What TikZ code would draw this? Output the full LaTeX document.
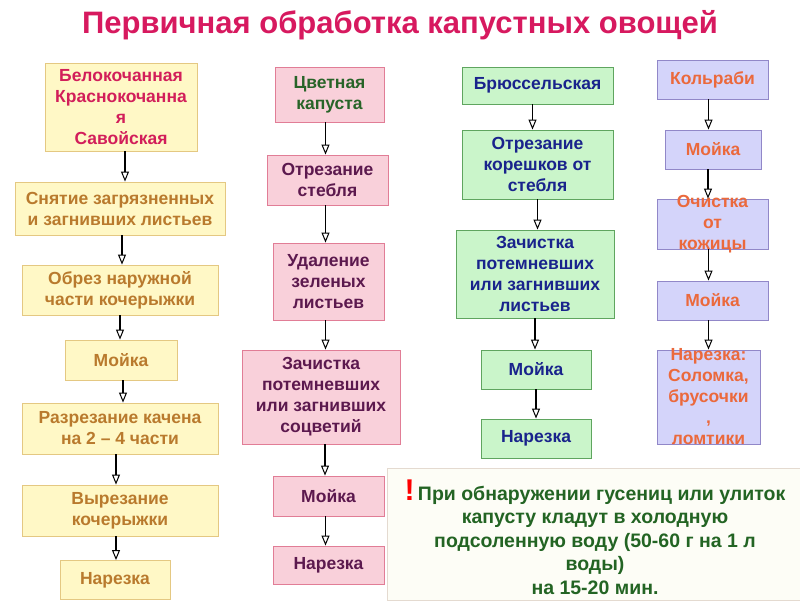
\documentclass[tikz,border=0pt]{standalone}
\usepackage{fontspec}
\setmainfont{Liberation Sans}
\usetikzlibrary{arrows.meta}
\definecolor{titlec}{RGB}{215,25,95}
\definecolor{yelf}{RGB}{255,248,198}
\definecolor{yeld}{RGB}{228,200,130}
\definecolor{yelt}{RGB}{185,122,45}
\definecolor{magt}{RGB}{210,30,90}
\definecolor{pinkf}{RGB}{249,208,218}
\definecolor{pinkd}{RGB}{225,125,150}
\definecolor{pinkt}{RGB}{92,25,78}
\definecolor{greent}{RGB}{40,100,40}
\definecolor{grnf}{RGB}{202,245,202}
\definecolor{grnd}{RGB}{95,165,95}
\definecolor{bluet}{RGB}{25,35,140}
\definecolor{lavf}{RGB}{212,212,250}
\definecolor{lavd}{RGB}{145,135,200}
\definecolor{orat}{RGB}{235,105,60}
\definecolor{notef}{RGB}{253,253,246}
\definecolor{noted}{RGB}{228,218,208}
\definecolor{notet}{RGB}{35,100,35}
\tikzset{
  box/.style={draw, line width=0.9pt, inner sep=0pt, align=center,
    font=\bfseries\fontsize{17.5}{21}\selectfont},
  ybox/.style={box, fill=yelf, draw=yeld, text=yelt},
  pbox/.style={box, fill=pinkf, draw=pinkd, text=pinkt},
  gbox/.style={box, fill=grnf, draw=grnd, text=bluet},
  lbox/.style={box, fill=lavf, draw=lavd, text=orat},
  ltext/.style={inner sep=0pt, align=center, text=orat,
    font=\bfseries\fontsize{17.5}{21}\selectfont},
  arr/.style={line width=1.3pt, -{Triangle[open, length=10pt, width=8pt, line width=1pt]}}
}
\begin{document}
\begin{tikzpicture}[x=1pt,y=-1pt]
\useasboundingbox (0,0) rectangle (800,600);
\fill[white] (0,0) rectangle (800,600);
\node[text=titlec, font=\bfseries\fontsize{31}{34}\selectfont] (title) at (400,25) {Первичная обработка капустных овощей};

% column 1
\node[ybox, text=magt, minimum width=152, minimum height=88] (B1) at (121,107) {Белокочанная\\Краснокочанна\\я\\Савойская};
\node[ybox, minimum width=210, minimum height=53] (B2) at (120,208.5) {Снятие загрязненных\\и загнивших листьев};
\node[ybox, minimum width=196, minimum height=50] (B3) at (120,290) {Обрез наружной\\части кочерыжки};
\node[ybox, minimum width=112, minimum height=40] (B4) at (121,360) {Мойка};
\node[ybox, minimum width=196, minimum height=51] (B5) at (120,428.5) {Разрезание качена\\на 2 – 4 части};
\node[ybox, minimum width=196, minimum height=51] (B6) at (120,510.5) {Вырезание\\кочерыжки};
\node[ybox, minimum width=110, minimum height=39] (B7) at (115,580) {Нарезка};
\draw[arr] ([xshift=4pt]B1.south) -- ([xshift=4pt]B1.south |- B2.north);
\draw[arr] ([xshift=2pt]B2.south) -- ([xshift=2pt]B2.south |- B3.north);
\draw[arr] (B3.south) -- (B3.south |- B4.north);
\draw[arr] ([xshift=2pt]B4.south) -- ([xshift=2pt]B4.south |- B5.north);
\draw[arr] ([xshift=-4pt]B5.south) -- ([xshift=-4pt]B5.south |- B6.north);
\draw[arr] ([xshift=-4pt]B6.south) -- ([xshift=-4pt]B6.south |- B7.north);

% column 2
\node[pbox, text=greent, minimum width=109, minimum height=55] (C1) at (329.5,94.5) {Цветная\\капуста};
\node[pbox, minimum width=121, minimum height=50] (C2) at (327.5,180) {Отрезание\\стебля};
\node[pbox, minimum width=111, minimum height=77] (C3) at (328.5,281.5) {Удаление\\зеленых\\листьев};
\node[pbox, minimum width=158, minimum height=94] (C4) at (321,397) {Зачистка\\потемневших\\или загнивших\\соцветий};
\node[pbox, minimum width=111, minimum height=40] (C5) at (328.5,496) {Мойка};
\node[pbox, minimum width=111, minimum height=38] (C6) at (328.5,565) {Нарезка};
\draw[arr] ([xshift=-4pt]C1.south) -- ([xshift=-4pt]C1.south |- C2.north);
\draw[arr] ([xshift=-2pt]C2.south) -- ([xshift=-2pt]C2.south |- C3.north);
\draw[arr] ([xshift=-3pt]C3.south) -- ([xshift=-3pt]C3.south |- C4.north);
\draw[arr] ([xshift=4pt]C4.south) -- ([xshift=4pt]C4.south |- C5.north);
\draw[arr] ([xshift=-3pt]C5.south) -- ([xshift=-3pt]C5.south |- C6.north);

% column 3
\node[gbox, minimum width=151, minimum height=37] (D1) at (537.5,85.5) {Брюссельская};
\node[gbox, minimum width=151, minimum height=69] (D2) at (537.5,164.5) {Отрезание\\корешков от\\стебля};
\node[gbox, minimum width=158, minimum height=88] (D3) at (535,274) {Зачистка\\потемневших\\или загнивших\\листьев};
\node[gbox, minimum width=110, minimum height=39] (D4) at (536,369.5) {Мойка};
\node[gbox, minimum width=110, minimum height=39] (D5) at (536,438.5) {Нарезка};
\draw[arr] ([xshift=-5pt]D1.south) -- ([xshift=-5pt]D1.south |- D2.north);
\draw[arr] (D2.south) -- (D2.south |- D3.north);
\draw[arr] (D3.south) -- (D3.south |- D4.north);
\draw[arr] (D4.south) -- (D4.south |- D5.north);

% column 4
\node[lbox, minimum width=111, minimum height=39] (E1) at (712.5,79.5) {Кольраби};
\node[lbox, minimum width=96, minimum height=39] (E2) at (713,149.5) {Мойка};
\node[lbox, minimum width=111, minimum height=50] (E3) at (712.5,224) {};
\node[ltext] (E3t) at (712.5,224.5) {Очистка\\от\\кожицы};
\node[lbox, minimum width=111, minimum height=39] (E4) at (712.5,300.5) {Мойка};
\node[lbox, minimum width=103, minimum height=94] (E5) at (708.5,397) {};
\node[ltext] (E5t) at (708.5,396.5) {Нарезка:\\Соломка,\\брусочки\\,\\ломтики};
\draw[arr] ([xshift=-4pt]E1.south) -- ([xshift=-4pt]E1.south |- E2.north);
\draw[arr] ([xshift=-5pt]E2.south) -- ([xshift=-5pt]E2.south |- E3.north);
\draw[arr] ([xshift=-4pt]E3.south) -- ([xshift=-4pt]E3.south |- E4.north);
\draw[arr] ([xshift=-4pt]E4.south) -- ([xshift=-4pt]E4.south |- E5.north);

% note
\node[draw=noted, fill=notef, line width=0.9pt, minimum width=413, minimum height=132, inner sep=0pt] (N) at (593.5,534) {};
\node[inner sep=0pt, align=center, text=notet, font=\bfseries\fontsize{19.5}{23.5}\selectfont] (Nt) at (595,537)
  {{\color{red}\fontsize{30}{23.5}\selectfont !}\,При обнаружении гусениц или улиток\\капусту кладут в холодную\\подсоленную воду (50-60 г на 1 л\\воды)\\на 15-20 мин.};
\end{tikzpicture}
\end{document}
